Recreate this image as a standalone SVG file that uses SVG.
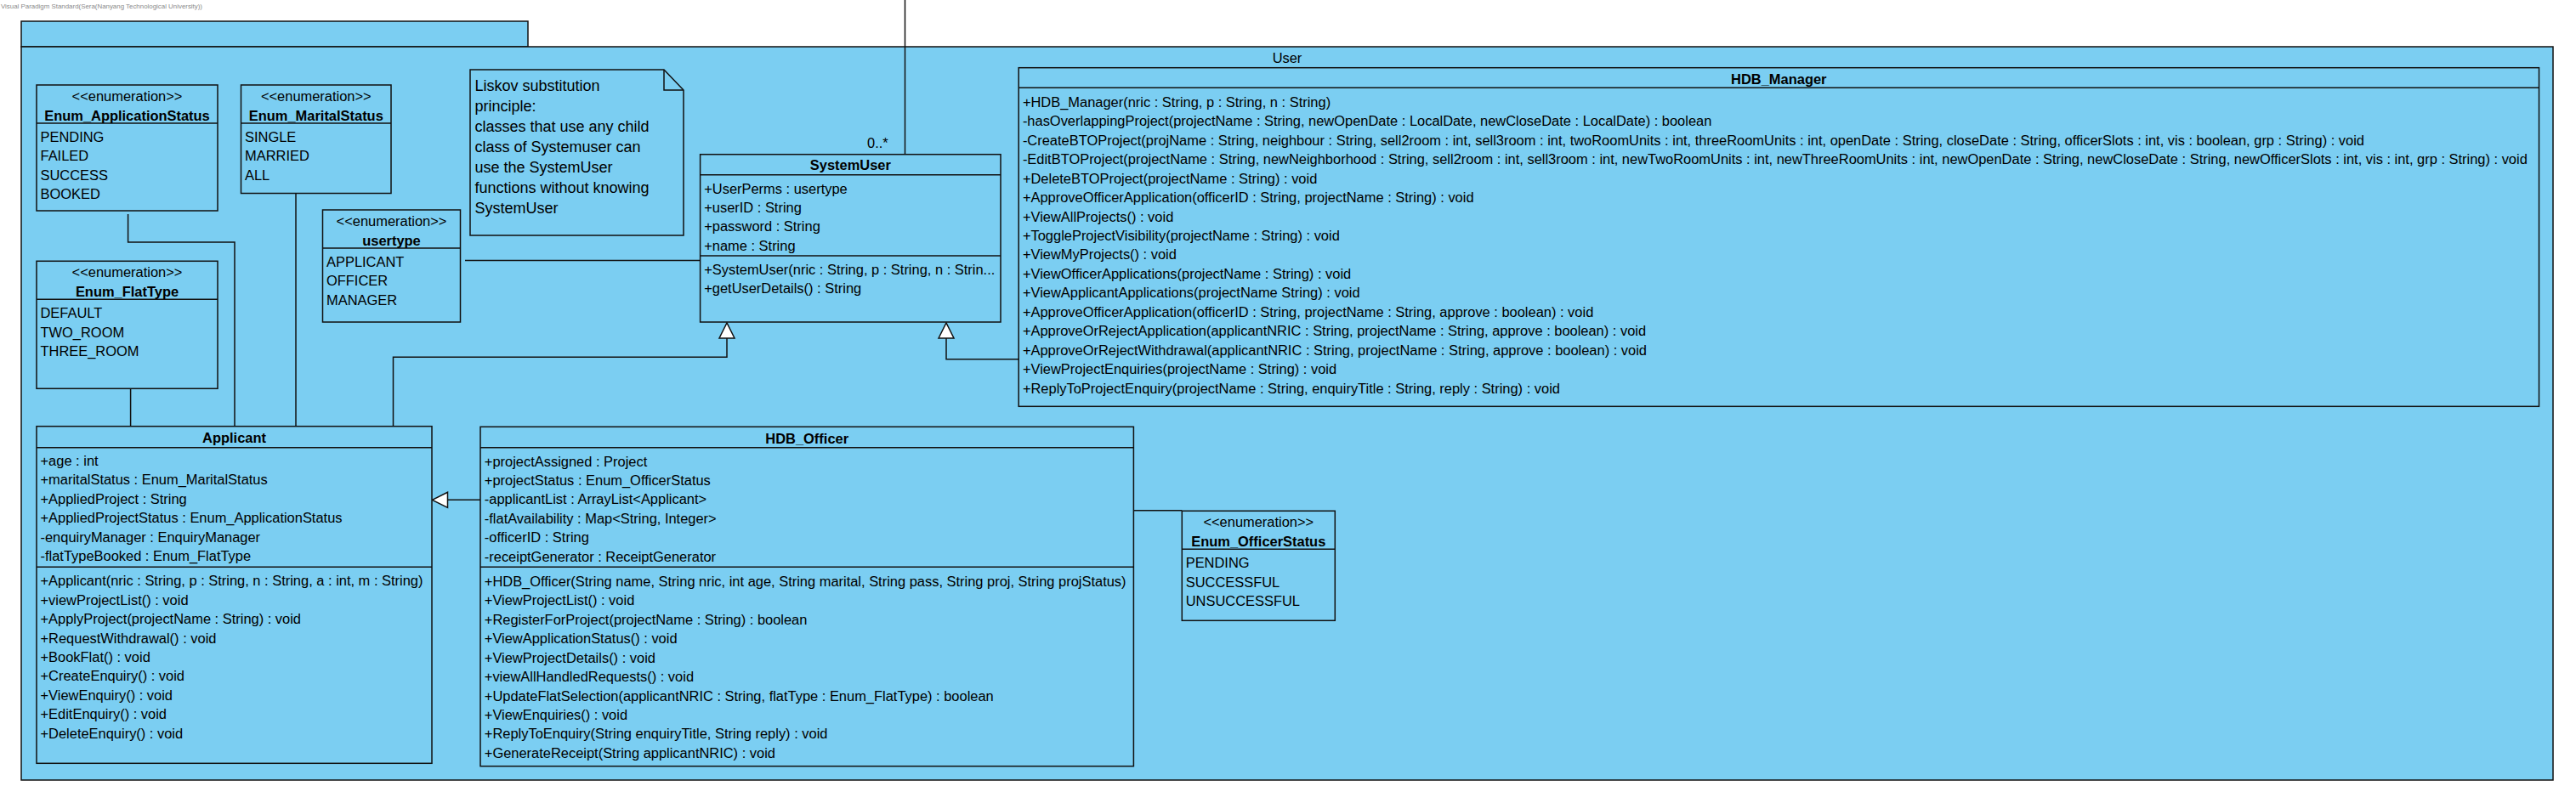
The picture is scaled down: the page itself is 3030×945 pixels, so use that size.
<svg xmlns="http://www.w3.org/2000/svg" width="3030" height="945" viewBox="0 0 3030 945">
<style>
  .box { fill: #7BCEF2; stroke: #111; stroke-width: 1.5; }
  .div { stroke: #111; stroke-width: 1.5; fill: none; }
  .conn { stroke: #111; stroke-width: 1.5; fill: none; }
  text { font-family: "Liberation Sans", Arial, sans-serif; font-size: 16.45px; fill: #000; }
  .t { font-weight: bold; text-anchor: middle; }
  .c { text-anchor: middle; }
  .note { font-size: 18px; }
  .wm { font-size: 7.9px; fill: #8a8a8a; }
</style>
<defs>
  <marker id="gen" markerUnits="userSpaceOnUse" markerWidth="22" markerHeight="22" viewBox="0 0 22 22" refX="20" refY="11" orient="auto">
    <path d="M2,2 L20,11 L2,20 Z" fill="#fff" stroke="#111" stroke-width="1.5"/>
  </marker>
</defs>
<rect width="3030" height="945" fill="#fff"/>
<text class="wm" x="1" y="10">Visual Paradigm Standard(Sera(Nanyang Technological University))</text>

<g id="package-User">
  <rect class="box" x="25" y="25" width="596" height="30"/>
  <rect class="box" x="25" y="55" width="2978" height="863"/>
  <text class="c" x="1514" y="74">User</text>
</g>

<g id="connectors">
  <polyline class="conn" points="150.6,252 150.6,285 276,285 276,501.7"/>
  <line class="conn" x1="348" y1="227.7" x2="348" y2="501.7"/>
  <line class="conn" x1="153.6" y1="457.3" x2="153.6" y2="501.7"/>
  <line class="conn" x1="547" y1="306.5" x2="823.6" y2="306.5"/>
  <polyline class="conn" points="462.5,501.7 462.5,420.3 855,420.3 855,380" marker-end="url(#gen)"/>
  <polyline class="conn" points="1198.2,422.7 1113,422.7 1113,380" marker-end="url(#gen)"/>
  <line class="conn" x1="565" y1="588.3" x2="508.5" y2="588.3" marker-end="url(#gen)"/>
  <line class="conn" x1="1333.4" y1="600.7" x2="1390.3" y2="600.7"/>
  <line class="conn" x1="1064.5" y1="0" x2="1064.5" y2="181.7"/>
  <text x="1020" y="174">0..*</text>
</g>

<g id="Enum_ApplicationStatus">
  <rect class="box" x="43" y="100" width="213" height="148"/>
  <line class="div" x1="43" y1="145" x2="256" y2="145"/>
  <text class="c" x="149.5" y="118.8">&lt;&lt;enumeration&gt;&gt;</text>
  <text class="t" x="149.5" y="141.8">Enum_ApplicationStatus</text>
  <text x="47.5" y="166.8">PENDING</text>
  <text x="47.5" y="189.3">FAILED</text>
  <text x="47.5" y="211.7">SUCCESS</text>
  <text x="47.5" y="234.2">BOOKED</text>
</g>

<g id="Enum_MaritalStatus">
  <rect class="box" x="283.5" y="100" width="176.5" height="127.5"/>
  <line class="div" x1="283.5" y1="145" x2="460" y2="145"/>
  <text class="c" x="371.8" y="118.8">&lt;&lt;enumeration&gt;&gt;</text>
  <text class="t" x="371.8" y="141.8">Enum_MaritalStatus</text>
  <text x="288" y="166.8">SINGLE</text>
  <text x="288" y="189.3">MARRIED</text>
  <text x="288" y="211.7">ALL</text>
</g>

<g id="note-Liskov">
  <path class="box" d="M553,82 L781,82 L804,106 L804,277 L553,277 Z"/>
  <polyline class="div" points="781,82 781,106 804,106"/>
  <text class="note" x="558.5" y="106.5">Liskov substitution</text>
  <text class="note" x="558.5" y="130.5">principle:</text>
  <text class="note" x="558.5" y="154.5">classes that use any child</text>
  <text class="note" x="558.5" y="178.5">class of Systemuser can</text>
  <text class="note" x="558.5" y="202.5">use the SystemUser</text>
  <text class="note" x="558.5" y="226.5">functions without knowing</text>
  <text class="note" x="558.5" y="250.5">SystemUser</text>
</g>

<g id="usertype">
  <rect class="box" x="379.5" y="247" width="162" height="132"/>
  <line class="div" x1="379.5" y1="292" x2="541.5" y2="292"/>
  <text class="c" x="460.5" y="265.8">&lt;&lt;enumeration&gt;&gt;</text>
  <text class="t" x="460.5" y="288.8">usertype</text>
  <text x="384" y="313.8">APPLICANT</text>
  <text x="384" y="336.3">OFFICER</text>
  <text x="384" y="358.7">MANAGER</text>
</g>

<g id="SystemUser">
  <rect class="box" x="823.6" y="181.7" width="353.4" height="197.3"/>
  <line class="div" x1="823.6" y1="205.7" x2="1177" y2="205.7"/>
  <line class="div" x1="823.6" y1="301" x2="1177" y2="301"/>
  <text class="t" x="1000.3" y="199.8">SystemUser</text>
  <text x="828.2" y="227.5">+UserPerms : usertype</text>
  <text x="828.2" y="250">+userID : String</text>
  <text x="828.2" y="272.4">+password : String</text>
  <text x="828.2" y="294.9">+name : String</text>
  <text x="828.2" y="322.8">+SystemUser(nric : String, p : String, n : Strin...</text>
  <text x="828.2" y="345.3">+getUserDetails() : String</text>
</g>

<g id="HDB_Manager">
  <rect class="box" x="1198.2" y="79.7" width="1788.3" height="398.6"/>
  <line class="div" x1="1198.2" y1="103.3" x2="2986.5" y2="103.3"/>
  <text class="t" x="2092.3" y="98.5">HDB_Manager</text>
  <text x="1202.9" y="125.8">+HDB_Manager(nric : String, p : String, n : String)</text>
  <text x="1202.9" y="148.3">-hasOverlappingProject(projectName : String, newOpenDate : LocalDate, newCloseDate : LocalDate) : boolean</text>
  <text x="1202.9" y="170.7">-CreateBTOProject(projName : String, neighbour : String, sell2room : int, sell3room : int, twoRoomUnits : int, threeRoomUnits : int, openDate : String, closeDate : String, officerSlots : int, vis : boolean, grp : String) : void</text>
  <text x="1202.9" y="193.2">-EditBTOProject(projectName : String, newNeighborhood : String, sell2room : int, sell3room : int, newTwoRoomUnits : int, newThreeRoomUnits : int, newOpenDate : String, newCloseDate : String, newOfficerSlots : int, vis : int, grp : String) : void</text>
  <text x="1202.9" y="215.6">+DeleteBTOProject(projectName : String) : void</text>
  <text x="1202.9" y="238.1">+ApproveOfficerApplication(officerID : String, projectName : String) : void</text>
  <text x="1202.9" y="260.5">+ViewAllProjects() : void</text>
  <text x="1202.9" y="283">+ToggleProjectVisibility(projectName : String) : void</text>
  <text x="1202.9" y="305.4">+ViewMyProjects() : void</text>
  <text x="1202.9" y="327.9">+ViewOfficerApplications(projectName : String) : void</text>
  <text x="1202.9" y="350.3">+ViewApplicantApplications(projectName String) : void</text>
  <text x="1202.9" y="372.8">+ApproveOfficerApplication(officerID : String, projectName : String, approve : boolean) : void</text>
  <text x="1202.9" y="395.2">+ApproveOrRejectApplication(applicantNRIC : String, projectName : String, approve : boolean) : void</text>
  <text x="1202.9" y="417.7">+ApproveOrRejectWithdrawal(applicantNRIC : String, projectName : String, approve : boolean) : void</text>
  <text x="1202.9" y="440.1">+ViewProjectEnquiries(projectName : String) : void</text>
  <text x="1202.9" y="462.6">+ReplyToProjectEnquiry(projectName : String, enquiryTitle : String, reply : String) : void</text>
</g>

<g id="Enum_FlatType">
  <rect class="box" x="43" y="307.3" width="213" height="150"/>
  <line class="div" x1="43" y1="352.3" x2="256" y2="352.3"/>
  <text class="c" x="149.5" y="326.1">&lt;&lt;enumeration&gt;&gt;</text>
  <text class="t" x="149.5" y="349.1">Enum_FlatType</text>
  <text x="47.5" y="374.1">DEFAULT</text>
  <text x="47.5" y="396.6">TWO_ROOM</text>
  <text x="47.5" y="419">THREE_ROOM</text>
</g>

<g id="Applicant">
  <rect class="box" x="43" y="501.7" width="465" height="396.6"/>
  <line class="div" x1="43" y1="526.7" x2="508" y2="526.7"/>
  <line class="div" x1="43" y1="667.3" x2="508" y2="667.3"/>
  <text class="t" x="275.5" y="520.8">Applicant</text>
  <text x="47.5" y="547.8">+age : int</text>
  <text x="47.5" y="570.3">+maritalStatus : Enum_MaritalStatus</text>
  <text x="47.5" y="592.7">+AppliedProject : String</text>
  <text x="47.5" y="615.2">+AppliedProjectStatus : Enum_ApplicationStatus</text>
  <text x="47.5" y="637.6">-enquiryManager : EnquiryManager</text>
  <text x="47.5" y="660.1">-flatTypeBooked : Enum_FlatType</text>
  <text x="47.5" y="689.1">+Applicant(nric : String, p : String, n : String, a : int, m : String)</text>
  <text x="47.5" y="711.6">+viewProjectList() : void</text>
  <text x="47.5" y="734">+ApplyProject(projectName : String) : void</text>
  <text x="47.5" y="756.5">+RequestWithdrawal() : void</text>
  <text x="47.5" y="778.9">+BookFlat() : void</text>
  <text x="47.5" y="801.4">+CreateEnquiry() : void</text>
  <text x="47.5" y="823.8">+ViewEnquiry() : void</text>
  <text x="47.5" y="846.3">+EditEnquiry() : void</text>
  <text x="47.5" y="868.7">+DeleteEnquiry() : void</text>
</g>

<g id="HDB_Officer">
  <rect class="box" x="565" y="502.3" width="768.4" height="399.4"/>
  <line class="div" x1="565" y1="526.7" x2="1333.4" y2="526.7"/>
  <line class="div" x1="565" y1="667.3" x2="1333.4" y2="667.3"/>
  <text class="t" x="949.2" y="521.5">HDB_Officer</text>
  <text x="569.8" y="548.5">+projectAssigned : Project</text>
  <text x="569.8" y="571">+projectStatus : Enum_OfficerStatus</text>
  <text x="569.8" y="593.4">-applicantList : ArrayList&lt;Applicant&gt;</text>
  <text x="569.8" y="615.9">-flatAvailability : Map&lt;String, Integer&gt;</text>
  <text x="569.8" y="638.3">-officerID : String</text>
  <text x="569.8" y="660.8">-receiptGenerator : ReceiptGenerator</text>
  <text x="569.8" y="689.8">+HDB_Officer(String name, String nric, int age, String marital, String pass, String proj, String projStatus)</text>
  <text x="569.8" y="712.3">+ViewProjectList() : void</text>
  <text x="569.8" y="734.7">+RegisterForProject(projectName : String) : boolean</text>
  <text x="569.8" y="757.2">+ViewApplicationStatus() : void</text>
  <text x="569.8" y="779.6">+ViewProjectDetails() : void</text>
  <text x="569.8" y="802.1">+viewAllHandledRequests() : void</text>
  <text x="569.8" y="824.5">+UpdateFlatSelection(applicantNRIC : String, flatType : Enum_FlatType) : boolean</text>
  <text x="569.8" y="847">+ViewEnquiries() : void</text>
  <text x="569.8" y="869.4">+ReplyToEnquiry(String enquiryTitle, String reply) : void</text>
  <text x="569.8" y="891.9">+GenerateReceipt(String applicantNRIC) : void</text>
</g>

<g id="Enum_OfficerStatus">
  <rect class="box" x="1390.3" y="601.3" width="180" height="129"/>
  <line class="div" x1="1390.3" y1="646.3" x2="1570.3" y2="646.3"/>
  <text class="c" x="1480.3" y="620.1">&lt;&lt;enumeration&gt;&gt;</text>
  <text class="t" x="1480.3" y="643.1">Enum_OfficerStatus</text>
  <text x="1394.7" y="668.1">PENDING</text>
  <text x="1394.7" y="690.6">SUCCESSFUL</text>
  <text x="1394.7" y="713">UNSUCCESSFUL</text>
</g>
</svg>
